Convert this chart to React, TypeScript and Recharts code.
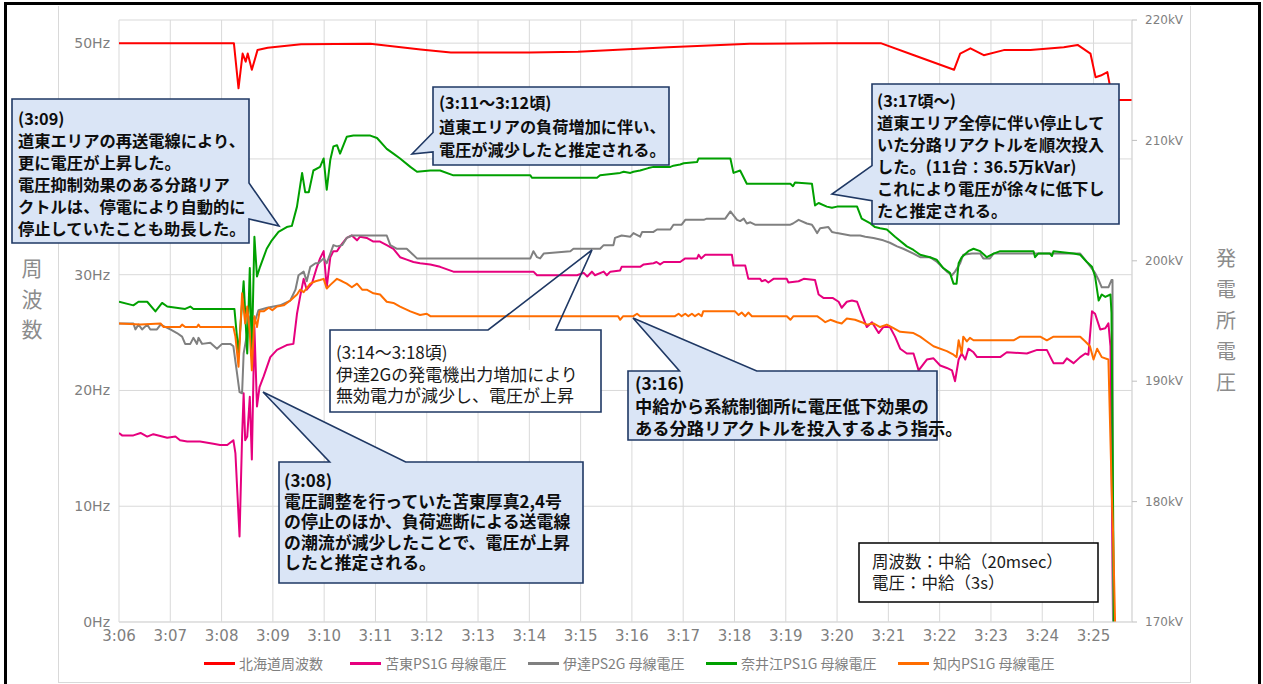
import React from 'react'
import { LineChart, Line, XAxis, YAxis, CartesianGrid } from 'recharts'

// x axis: minutes after 3:00
const minuteTicks = [6, 7, 8, 9, 10, 11, 12, 13, 14, 15, 16, 17, 18, 19, 20, 21, 22, 23, 24, 25]
const hzTicks = [0, 10, 20, 30, 40, 50]
const kvTicks = [170, 180, 190, 200, 210, 220]
// the 40Hz label sits under the (3:09) callout in the original
const hiddenHzLabels = [40]

// 北海道周波数 [minute, Hz]
const hokkaidoHz: [number, number][] = [
  [6.0, 50.0], [8.24, 50.0], [8.33, 46.1], [8.41, 49.1], [8.47, 48.4], [8.51, 49.1], [8.59, 47.7],
  [8.7, 49.4], [8.9, 49.6], [9.55, 49.9], [10.9, 49.95], [11.88, 49.45], [12.47, 49.2], [14.0, 49.2],
  [14.95, 49.25], [16.7, 49.65], [18.3, 49.95], [19.87, 50.0], [20.85, 50.0], [21.5, 48.96],
  [22.28, 47.7], [22.4, 49.1], [22.6, 49.55], [22.86, 48.96], [23.25, 49.4], [23.77, 49.4],
  [24.42, 49.65], [24.69, 49.85], [24.94, 49.1], [25.04, 47.06], [25.14, 47.2], [25.27, 47.5],
  [25.37, 45.1], [25.76, 45.1],
]

// 苫東PS1G 母線電圧 [minute, kV]
const tomatoKV: [number, number][] = [
  [6.0, 185.7], [6.06, 185.5], [6.28, 185.5], [6.42, 185.7], [6.55, 185.4], [6.67, 185.6], [6.94, 185.3],
  [7.1, 185.4], [7.19, 185.1], [7.33, 185.0], [7.58, 185.0], [7.84, 184.8], [7.97, 184.7], [8.11, 184.7],
  [8.23, 185.1], [8.27, 184.0], [8.35, 177.1], [8.4, 185.4], [8.43, 189.0], [8.46, 185.1], [8.5, 185.4],
  [8.55, 188.7], [8.59, 183.5], [8.64, 194.5], [8.69, 187.9], [8.74, 189.5], [8.82, 190.4], [8.95, 192.0],
  [9.08, 192.6], [9.27, 193.0], [9.4, 193.1], [9.47, 195.6], [9.53, 197.0], [9.6, 198.5], [9.66, 197.6],
  [9.76, 198.1], [9.86, 199.5], [9.92, 200.2], [9.99, 200.8], [10.05, 197.8], [10.12, 200.3], [10.18, 200.8],
  [10.25, 200.8], [10.31, 201.2], [10.44, 201.9], [10.54, 202.1], [10.64, 201.7], [10.7, 202.0], [10.83, 201.9],
  [10.96, 201.6], [11.09, 201.6], [11.22, 201.3], [11.35, 201.0], [11.48, 200.3], [11.61, 200.1], [11.74, 199.9],
  [11.87, 199.8], [12.07, 199.7], [12.26, 199.5], [12.52, 199.1], [14.08, 199.1], [14.15, 198.8], [14.93, 198.8],
  [15.06, 199.0], [15.13, 198.7], [15.22, 199.1], [15.28, 198.8], [15.45, 199.1], [15.51, 198.8], [15.58, 199.1],
  [15.77, 199.2], [15.8, 199.5], [16.16, 199.5], [16.23, 199.7], [16.42, 199.8], [16.48, 199.9], [16.55, 199.7],
  [16.62, 199.9], [16.94, 199.9], [17.04, 200.2], [17.27, 200.2], [17.3, 200.5], [17.35, 200.2], [17.43, 200.5],
  [17.95, 200.5], [17.98, 199.6], [18.21, 199.6], [18.27, 198.5], [18.5, 198.5], [18.53, 198.3], [18.6, 198.4],
  [18.66, 198.2], [18.76, 198.5], [19.02, 198.5], [19.05, 198.2], [19.25, 198.3], [19.35, 198.5], [19.57, 198.4],
  [19.64, 197.2], [19.74, 196.9], [19.92, 196.9], [20.03, 196.6], [20.09, 196.1], [20.19, 196.6], [20.29, 196.7],
  [20.39, 196.6], [20.45, 195.9], [20.58, 194.5], [20.68, 194.9], [20.81, 194.0], [20.9, 194.5], [21.03, 194.5],
  [21.13, 193.7], [21.23, 192.7], [21.36, 192.3], [21.49, 192.3], [21.59, 190.9], [21.75, 191.8], [21.88, 191.9],
  [22.01, 191.3], [22.14, 191.1], [22.24, 190.9], [22.3, 190.0], [22.37, 191.8], [22.43, 192.3], [22.5, 191.8],
  [22.56, 192.7], [22.66, 192.4], [22.73, 192.0], [23.18, 192.0], [23.31, 192.4], [23.7, 192.3], [23.9, 192.6],
  [24.09, 192.6], [24.16, 192.0], [24.22, 191.5], [24.41, 191.5], [24.48, 191.9], [24.61, 191.5], [24.74, 192.0],
  [24.84, 192.3], [24.9, 192.2], [24.97, 195.8], [25.03, 195.6], [25.13, 194.3], [25.23, 194.4], [25.29, 194.8],
  [25.33, 192.9], [25.38, 170],
]

// 伊達PS2G 母線電圧 [minute, kV]
const dateKV: [number, number][] = [
  [6.0, 194.8], [6.28, 194.8], [6.32, 194.3], [6.38, 194.7], [6.45, 194.3], [6.55, 194.7], [6.61, 194.3],
  [6.74, 194.3], [6.81, 194.7], [7.0, 194.3], [7.13, 194.0], [7.23, 193.7], [7.29, 193.1], [7.39, 193.1],
  [7.45, 193.6], [7.52, 193.1], [7.55, 193.6], [7.62, 193.1], [7.78, 193.2], [7.91, 192.7], [8.01, 193.1],
  [8.17, 193.1], [8.23, 192.9], [8.3, 190.7], [8.35, 189.1], [8.4, 189.0], [8.43, 192.3], [8.5, 194.0],
  [8.56, 195.4], [8.66, 195.1], [8.72, 195.9], [8.89, 196.1], [9.14, 196.3], [9.34, 196.7], [9.44, 197.6],
  [9.5, 198.8], [9.6, 199.1], [9.66, 198.3], [9.73, 199.5], [9.83, 199.8], [9.89, 199.8], [9.99, 200.2],
  [10.05, 199.8], [10.12, 200.6], [10.18, 201.3], [10.25, 201.2], [10.35, 201.3], [10.44, 201.9], [10.54, 202.1],
  [11.22, 202.1], [11.29, 201.3], [11.42, 201.0], [11.61, 201.0], [11.81, 200.2], [14.02, 200.2], [14.08, 200.8],
  [14.15, 200.3], [14.21, 200.2], [14.28, 200.6], [14.8, 200.8], [14.86, 201.0], [15.38, 201.0], [15.45, 201.3],
  [15.64, 201.3], [15.67, 201.9], [15.8, 202.1], [15.97, 202.0], [16.03, 202.3], [16.16, 202.0], [16.2, 202.4],
  [16.42, 202.4], [16.49, 202.6], [16.75, 202.6], [16.81, 203.0], [16.97, 203.0], [17.04, 203.4], [17.4, 203.4],
  [17.46, 203.5], [17.82, 203.5], [17.92, 204.1], [18.05, 203.4], [18.11, 203.3], [18.18, 203.5], [18.24, 203.1],
  [18.31, 203.2], [18.4, 203.0], [19.09, 203.0], [19.14, 203.1], [19.25, 203.4], [19.41, 203.1], [19.51, 203.0],
  [19.54, 202.8], [19.61, 202.3], [19.67, 202.7], [19.83, 202.8], [19.9, 202.4], [20.0, 202.3], [20.26, 202.1],
  [20.45, 202.1], [20.55, 202.0], [20.71, 201.9], [20.9, 201.7], [21.03, 201.5], [21.17, 201.2], [21.29, 201.0],
  [21.49, 200.6], [21.62, 200.3], [21.81, 200.3], [21.95, 199.9], [22.14, 199.1], [22.24, 198.8], [22.3, 199.1],
  [22.4, 199.8], [22.46, 200.5], [22.63, 200.6], [22.79, 200.6], [22.85, 200.2], [22.98, 200.2], [23.05, 200.6],
  [24.74, 200.6], [24.87, 199.9], [25.03, 199.0], [25.1, 198.4], [25.16, 197.8], [25.29, 197.8], [25.35, 198.4],
  [25.37, 198.4], [25.38, 170],
]

// 奈井江PS1G 母線電圧 [minute, kV]
const naieKV: [number, number][] = [
  [6.0, 196.6], [6.28, 196.3], [6.38, 196.6], [6.55, 196.6], [6.71, 195.8], [6.84, 196.5], [6.94, 196.2],
  [7.29, 196.0], [7.39, 196.2], [7.45, 196.0], [8.25, 196.0], [8.33, 192.3], [8.43, 198.3], [8.5, 192.3],
  [8.55, 199.4], [8.59, 192.3], [8.64, 202.0], [8.69, 198.7], [8.75, 199.5], [8.88, 201.0], [8.98, 201.7],
  [9.11, 202.4], [9.27, 202.8], [9.37, 202.9], [9.47, 204.5], [9.57, 207.3], [9.63, 205.7], [9.7, 205.7],
  [9.79, 207.5], [9.92, 207.8], [9.99, 208.5], [10.05, 205.9], [10.12, 208.4], [10.18, 209.5], [10.25, 209.6],
  [10.31, 208.9], [10.44, 210.3], [10.57, 210.4], [10.9, 210.4], [11.03, 210.2], [11.22, 209.3], [11.35, 208.9],
  [11.48, 208.5], [11.68, 207.8], [11.81, 207.4], [12.07, 207.5], [12.26, 207.5], [12.52, 207.1], [14.02, 207.1],
  [14.05, 206.9], [15.32, 206.9], [15.38, 207.1], [15.77, 207.3], [15.84, 207.4], [15.97, 207.3], [16.03, 207.4],
  [16.16, 207.5], [16.32, 207.7], [16.42, 207.8], [16.75, 207.8], [16.81, 207.9], [16.94, 208.0], [17.01, 208.1],
  [17.27, 208.2], [17.3, 208.5], [17.92, 208.5], [17.98, 207.3], [18.11, 207.5], [18.24, 206.4], [19.09, 206.4],
  [19.14, 206.2], [19.18, 206.5], [19.51, 206.4], [19.57, 204.6], [19.64, 204.8], [19.8, 204.5], [19.9, 204.4],
  [20.0, 204.5], [20.39, 204.5], [20.48, 203.5], [20.65, 203.1], [20.74, 202.8], [20.84, 202.7], [20.97, 202.6],
  [21.13, 202.0], [21.36, 201.2], [21.49, 200.9], [21.62, 200.5], [21.81, 200.3], [21.94, 200.1], [22.07, 199.4],
  [22.2, 199.0], [22.27, 198.1], [22.33, 198.1], [22.37, 199.8], [22.43, 200.3], [22.56, 200.8], [22.66, 201.0],
  [22.79, 200.8], [22.92, 200.3], [23.05, 200.6], [23.18, 200.8], [23.83, 200.8], [23.86, 200.3], [23.92, 200.6],
  [24.15, 200.6], [24.19, 200.4], [24.22, 200.8], [24.61, 200.6], [24.74, 200.5], [24.87, 199.9], [24.97, 199.5],
  [25.03, 198.7], [25.1, 196.7], [25.16, 197.2], [25.23, 197.0], [25.33, 197.2], [25.35, 195.7], [25.4, 170],
]

// 知内PS1G 母線電圧 [minute, kV]
const shiriuchiKV: [number, number][] = [
  [6.0, 194.8], [6.42, 194.7], [6.81, 194.8], [6.87, 194.5], [7.19, 194.5], [7.23, 194.7], [7.29, 194.5],
  [7.52, 194.5], [7.55, 194.7], [7.58, 194.5], [8.23, 194.5], [8.27, 193.7], [8.33, 191.2], [8.4, 197.3],
  [8.46, 194.8], [8.5, 196.2], [8.55, 194.0], [8.59, 190.9], [8.64, 195.4], [8.69, 194.5], [8.74, 195.8],
  [8.82, 195.8], [8.92, 196.1], [8.99, 195.9], [9.08, 196.2], [9.21, 196.3], [9.34, 196.7], [9.47, 197.2],
  [9.53, 197.6], [9.6, 197.4], [9.73, 198.1], [9.83, 198.3], [9.92, 198.4], [9.99, 198.5], [10.05, 197.7],
  [10.12, 198.0], [10.25, 198.5], [10.35, 198.3], [10.44, 198.1], [10.54, 197.8], [10.64, 198.1], [10.74, 197.6],
  [10.83, 197.6], [10.96, 197.3], [11.09, 197.2], [11.22, 196.6], [11.35, 196.5], [11.48, 196.2], [11.68, 195.8],
  [11.87, 195.5], [12.0, 195.6], [12.07, 195.4], [15.73, 195.4], [15.77, 195.1], [15.83, 195.4], [16.03, 195.4],
  [16.1, 195.6], [16.16, 195.4], [16.84, 195.4], [16.91, 195.6], [16.97, 195.4], [17.04, 195.6], [17.1, 195.4],
  [17.17, 195.6], [17.23, 195.4], [17.3, 195.6], [17.36, 195.4], [17.39, 195.8], [18.01, 195.8], [18.08, 195.5],
  [18.14, 195.7], [18.21, 195.4], [18.27, 195.7], [18.34, 195.4], [19.02, 195.4], [19.09, 195.1], [19.15, 195.4],
  [19.61, 195.4], [19.71, 195.1], [19.77, 194.9], [19.87, 195.1], [20.0, 194.9], [20.09, 194.8], [20.19, 195.2],
  [20.35, 195.1], [20.48, 194.9], [20.58, 194.7], [20.71, 194.8], [20.84, 194.5], [20.97, 194.7], [21.1, 194.4],
  [21.23, 194.1], [21.49, 194.0], [21.62, 193.7], [21.75, 193.3], [21.88, 192.9], [22.14, 192.5], [22.27, 192.2],
  [22.33, 192.0], [22.37, 193.4], [22.43, 192.3], [22.46, 193.7], [22.53, 193.3], [22.59, 193.6], [22.66, 193.4],
  [23.44, 193.4], [23.57, 193.7], [23.96, 193.7], [24.09, 193.4], [24.22, 193.7], [24.74, 193.7], [24.84, 193.3],
  [24.93, 192.9], [25.0, 191.8], [25.07, 192.7], [25.16, 192.0], [25.29, 191.8], [25.36, 180.1], [25.38, 177.6],
  [25.42, 170],
]

const series = [
  { name: '北海道周波数', color: '#ff0000', axis: 'hz', points: hokkaidoHz },
  { name: '苫東PS1G 母線電圧', color: '#e6007e', axis: 'kv', points: tomatoKV },
  { name: '伊達PS2G 母線電圧', color: '#808080', axis: 'kv', points: dateKV },
  { name: '奈井江PS1G 母線電圧', color: '#00a000', axis: 'kv', points: naieKV },
  { name: '知内PS1G 母線電圧', color: '#ff6d00', axis: 'kv', points: shiriuchiKV },
]

const legendX = [204, 350, 528, 706, 898]

const JP = '"Noto Sans CJK JP", "Noto Sans", sans-serif'
const TICK_FONT = '"DejaVu Sans", sans-serif'
const NAVY = '#1f3864'
const PALE = '#dae5f6'

type Side = 'top' | 'left' | 'right'
interface Callout {
  x: number; y: number; w: number; h: number
  side: Side; tip: [number, number]; f: [number, number]
  fill: string; tailFill: boolean
  textX: number; textY: number; size: number; lh: number; bold: boolean
  lines: string[]
}

const callouts: Callout[] = [
  {
    x: 12, y: 99, w: 237, h: 144, side: 'right', tip: [279, 226], f: [7 / 12, 10 / 12],
    fill: PALE, tailFill: true, textX: 18, textY: 107, size: 16.3, lh: 22, bold: true,
    lines: ['(3:09)', '道東エリアの再送電線により、', '更に電圧が上昇した。', '電圧抑制効果のある分路リア', 'クトルは、停電により自動的に', '停止していたことも助長した。'],
  },
  {
    x: 433, y: 87, w: 236, h: 78, side: 'left', tip: [412, 154], f: [7 / 12, 10 / 12],
    fill: PALE, tailFill: true, textX: 439, textY: 91, size: 16.2, lh: 23.5, bold: true,
    lines: ['(3:11～3:12頃)', '道東エリアの負荷増加に伴い、', '電圧が減少したと推定される。'],
  },
  {
    x: 872, y: 84, w: 247, h: 140, side: 'left', tip: [832, 194], f: [7 / 12, 10 / 12],
    fill: PALE, tailFill: true, textX: 877, textY: 89, size: 16.3, lh: 22, bold: true,
    lines: ['(3:17頃～)', '道東エリア全停に伴い停止して', 'いた分路リアクトルを順次投入', 'した。(11台：36.5万kVar)', 'これにより電圧が徐々に低下し', 'たと推定される。'],
  },
  {
    x: 330, y: 330, w: 271, h: 82, side: 'top', tip: [592, 250], f: [7 / 12, 10 / 12],
    fill: '#ffffff', tailFill: false, textX: 336, textY: 341, size: 17, lh: 21.5, bold: false,
    lines: ['(3:14～3:18頃)', '伊達2Gの発電機出力増加により', '無効電力が減少し、電圧が上昇'],
  },
  {
    x: 628, y: 371, w: 309, h: 69, side: 'top', tip: [633, 318], f: [2 / 12, 5 / 12],
    fill: PALE, tailFill: true, textX: 635, textY: 372, size: 17.3, lh: 22.5, bold: true,
    lines: ['(3:16)', '中給から系統制御所に電圧低下効果の', 'ある分路リアクトルを投入するよう指示。'],
  },
  {
    x: 279, y: 462, w: 304, h: 121, side: 'top', tip: [263, 392], f: [2 / 12, 5 / 12],
    fill: PALE, tailFill: true, textX: 284, textY: 470, size: 16.9, lh: 20.5, bold: true,
    lines: ['(3:08)', '電圧調整を行っていた苫東厚真2,4号', 'の停止のほか、負荷遮断による送電線', 'の潮流が減少したことで、電圧が上昇', 'したと推定される。'],
  },
]

function calloutPath(c: Callout) {
  const { x, y, w, h, side, tip, f } = c
  const r = x + w
  const b = y + h
  const [tx, ty] = tip
  if (side === 'top') {
    const a = x + w * f[0]
    const d = x + w * f[1]
    return `M${x},${y} L${a},${y} L${tx},${ty} L${d},${y} L${r},${y} L${r},${b} L${x},${b} Z`
  }
  if (side === 'left') {
    const a = y + h * f[0]
    const d = y + h * f[1]
    return `M${x},${y} L${r},${y} L${r},${b} L${x},${b} L${x},${d} L${tx},${ty} L${x},${a} Z`
  }
  const a = y + h * f[0]
  const d = y + h * f[1]
  return `M${x},${y} L${r},${y} L${r},${a} L${tx},${ty} L${r},${d} L${r},${b} L${x},${b} Z`
}

function VerticalTitle({ text, cx, top, step, size }: { text: string; cx: number; top: number; step: number; size: number }) {
  return (
    <div style={{ position: 'absolute', left: cx - 20, top, width: 40, textAlign: 'center', fontFamily: JP, fontSize: size, color: '#8c8c8c' }}>
      {text.split('').map((ch, i) => (
        <div key={i} style={{ height: step, lineHeight: `${step}px` }}>{ch}</div>
      ))}
    </div>
  )
}

export default function App() {
  return (
    <div style={{ position: 'absolute', left: 0, top: 0, width: 1263, height: 684, overflow: 'hidden', background: '#fff' }}>
      {/* outer frame */}
      <div style={{ position: 'absolute', left: 4, top: 2, width: 1251, height: 720, border: '3px solid #000' }} />
      {/* chart area border */}
      <div style={{ position: 'absolute', left: 58, top: 6, width: 1131, height: 676, borderLeft: '1px solid #d9d9d9', borderRight: '1px solid #d9d9d9', borderBottom: '1px solid #d9d9d9' }} />

      <div style={{ position: 'absolute', left: 0, top: 0 }}>
        <LineChart width={1263} height={684} margin={{ top: 20, right: 71, bottom: 32, left: 0 }}>
          <CartesianGrid yAxisId="hz" stroke="#d9d9d9" strokeWidth={1} />
          <XAxis
            type="number"
            dataKey="t"
            domain={[6, 25.75]}
            ticks={minuteTicks}
            interval={0}
            allowDataOverflow
            height={30}
            tickFormatter={(m: number) => `3:${String(m).padStart(2, '0')}`}
            axisLine={{ stroke: '#d9d9d9' }}
            tickLine={false}
            tick={{ fill: '#7f7f7f', fontSize: 15, fontFamily: TICK_FONT }}
          />
          <YAxis
            yAxisId="hz"
            orientation="left"
            width={119}
            domain={[0, 52]}
            ticks={hzTicks}
            interval={0}
            allowDataOverflow
            tickFormatter={(v: number) => (hiddenHzLabels.includes(v) ? '' : `${v}Hz`)}
            axisLine={false}
            tickLine={false}
            tickMargin={3}
            tick={{ fill: '#7f7f7f', fontSize: 14, fontFamily: TICK_FONT }}
          />
          <YAxis
            yAxisId="kv"
            orientation="right"
            width={60}
            domain={[170, 220]}
            ticks={kvTicks}
            interval={0}
            allowDataOverflow
            tickFormatter={(v: number) => `${v}kV`}
            axisLine={{ stroke: '#d9d9d9' }}
            tickLine={{ stroke: '#bfbfbf' }}
            tickSize={5}
            tickMargin={8}
            tick={{ fill: '#7f7f7f', fontSize: 12, fontFamily: TICK_FONT }}
          />
          {series.map((s) => (
            <Line
              key={s.name}
              yAxisId={s.axis}
              data={s.points.map(([t, v]) => ({ t, v }))}
              dataKey="v"
              name={s.name}
              type="linear"
              stroke={s.color}
              strokeWidth={2}
              strokeLinejoin="round"
              dot={false}
              activeDot={false}
              isAnimationActive={false}
            />
          ))}
        </LineChart>
      </div>

      {/* axis titles */}
      <VerticalTitle text="周波数" cx={32} top={252} step={30.5} size={21} />
      <VerticalTitle text="発電所電圧" cx={1226} top={242} step={31} size={20} />

      {/* legend */}
      {series.map((s, i) => (
        <div key={s.name} style={{ position: 'absolute', left: legendX[i], top: 652, height: 22, display: 'flex', alignItems: 'center' }}>
          <div style={{ width: 31, height: 3, background: s.color, marginRight: 4 }} />
          <span style={{ fontFamily: JP, fontSize: 14, color: '#7f7f7f', whiteSpace: 'nowrap' }}>{s.name}</span>
        </div>
      ))}

      {/* callouts */}
      <svg width={1263} height={684} style={{ position: 'absolute', left: 0, top: 0, pointerEvents: 'none' }}>
        {callouts.map((c, i) => (
          <g key={i}>
            {c.tailFill ? (
              <path d={calloutPath(c)} fill={c.fill} stroke={NAVY} strokeWidth={1.6} strokeLinejoin="miter" />
            ) : (
              <>
                <rect x={c.x} y={c.y} width={c.w} height={c.h} fill={c.fill} />
                <path d={calloutPath(c)} fill="none" stroke={NAVY} strokeWidth={1.6} />
              </>
            )}
          </g>
        ))}
        <rect x={859} y={543} width={239} height={59} fill="#fff" stroke="#000" strokeWidth={1.5} />
      </svg>
      {callouts.map((c, i) => (
        <div
          key={i}
          style={{
            position: 'absolute', left: c.textX, top: c.textY, fontFamily: JP, fontSize: c.size,
            lineHeight: `${c.lh}px`, fontWeight: c.bold ? 700 : 400, color: c.bold ? '#0d0d0d' : '#1a1a1a', whiteSpace: 'pre',
          }}
        >
          {c.lines.join('\n')}
        </div>
      ))}
      <div style={{ position: 'absolute', left: 872, top: 551, fontFamily: JP, fontSize: 16.5, lineHeight: '21px', color: '#1a1a1a', whiteSpace: 'pre' }}>
        {'周波数：中給（20msec）\n電圧：中給（3s）'}
      </div>
    </div>
  )
}
